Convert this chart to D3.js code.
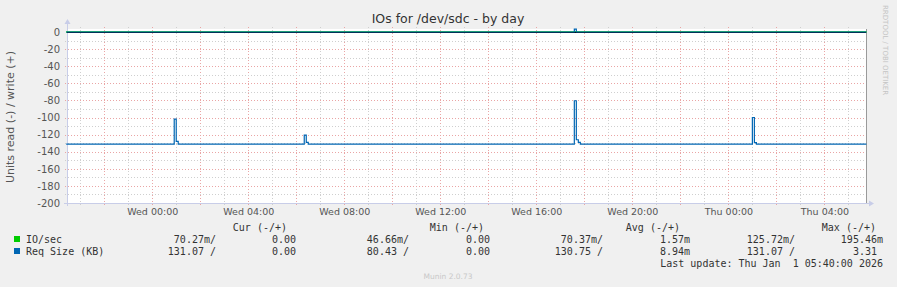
<!DOCTYPE html>
<html>
<head>
<meta charset="utf-8">
<script src="https://cdn.jsdelivr.net/npm/d3@7"></script>
<style>
  body { margin: 0; background: #f0f0f0; }
  svg { display: block; }
  text { font-family: "DejaVu Sans", sans-serif; }
  .mono { font-family: "DejaVu Sans Mono", monospace; font-size: 10px; fill: #333; }
</style>
</head>
<body>
<svg id="chart" width="897" height="287"></svg>
<script>
// time window (Tue 30 Dec 2025 -> Thu 1 Jan 2026)
const windowStart = "2025-12-30T20:27";
const windowEnd = "2026-01-01T05:44";

// Req Size (KB), read side (drawn negative) - breakpoints, 5 min steps
const reqReadTimes = [
  "2025-12-30T20:25", "2025-12-31T00:55", "2025-12-31T01:00", "2025-12-31T01:05",
  "2025-12-31T06:20", "2025-12-31T06:25", "2025-12-31T06:30",
  "2025-12-31T17:35", "2025-12-31T17:40", "2025-12-31T17:45", "2025-12-31T17:50",
  "2026-01-01T01:00", "2026-01-01T01:05", "2026-01-01T01:10", "2026-01-01T05:45"
];
const reqReadValues = [
  131.07, 101.8, 128.0, 131.07,
  120.5, 129.0, 131.07,
  80.43, 126.0, 129.0, 131.07,
  100.0, 129.5, 131.07, 131.07
];
// Req Size (KB), write side
const reqWriteTimes = ["2025-12-30T20:25", "2025-12-31T17:35", "2025-12-31T17:40", "2026-01-01T05:45"];
const reqWriteValues = [0, 3.31, 0, 0];

// IO/sec, read and write (tiny values, they sit on the zero line)
const ioReadTimes = ["2025-12-30T20:25", "2025-12-31T17:35", "2025-12-31T17:40", "2026-01-01T05:45"];
const ioReadValues = [0.0703, 0.1257, 0.0703, 0.0703];
const ioWriteTimes = ["2025-12-30T20:25", "2025-12-31T17:35", "2025-12-31T17:40", "2026-01-01T05:45"];
const ioWriteValues = [0, 0.1955, 0, 0];

const yTicks = [0, -20, -40, -60, -80, -100, -120, -140, -160, -180, -200];

// legend
const legendHeads = ["Cur (-/+)", "Min (-/+)", "Avg (-/+)", "Max (-/+)"];
const legendNames = ["IO/sec", "Req Size (KB)"];
const legendColors = ["#00cc00", "#0066b3"];
const legendRows = [
  ["70.27m/", "0.00", "46.66m/", "0.00", "70.37m/", "1.57m", "125.72m/", "195.46m"],
  ["131.07 /", "0.00", "80.43 /", "0.00", "130.75 /", "8.94m", "131.07 /", "3.31 "]
];

const svg = d3.select("#chart");
const parse = d3.timeParse("%Y-%m-%dT%H:%M");

const plotL = 67, plotR = 866, plotT = 32, plotB = 203;
const x = d3.scaleTime().domain([parse(windowStart), parse(windowEnd)]).range([plotL, plotR]);
const y = d3.scaleLinear().domain([-200, 0]).range([plotB, plotT]);

// plot background
svg.append("rect").attr("x", plotL).attr("y", plotT - 3).attr("width", plotR - plotL).attr("height", plotB - plotT + 3).attr("fill", "#fff");

// grid
const grid = svg.append("g").attr("shape-rendering", "crispEdges");
const hours = d3.timeHour.range(x.domain()[0], x.domain()[1]);
hours.forEach(h => {
  const major = h.getHours() % 2 === 0;
  grid.append("line")
    .attr("x1", Math.round(x(h)) + 0.5).attr("x2", Math.round(x(h)) + 0.5)
    .attr("y1", plotT - 5).attr("y2", plotB + 3)
    .attr("stroke", major ? "#eaa5a5" : "#cfcfcf")
    .attr("stroke-dasharray", "1,2");
});
d3.range(-200, 1, 10).forEach(v => {
  const major = v % 20 === 0;
  if (v === 0) return;
  grid.append("line")
    .attr("x1", plotL - 2).attr("x2", plotR + 2)
    .attr("y1", Math.round(y(v)) + 0.5).attr("y2", Math.round(y(v)) + 0.5)
    .attr("stroke", major ? "#eaa5a5" : "#cfcfcf")
    .attr("stroke-dasharray", "1,2");
});

// axes lines and arrows
const axisCol = "#c8cde8";
svg.append("line").attr("x1", plotL + 0.5).attr("x2", plotL + 0.5).attr("y1", plotT - 8).attr("y2", plotB + 3)
  .attr("stroke", axisCol);
svg.append("line").attr("x1", plotL - 3).attr("x2", plotR + 3).attr("y1", plotB + 0.5).attr("y2", plotB + 0.5)
  .attr("stroke", axisCol);
svg.append("path").attr("d", `M${plotL - 2.5},${plotT - 8} L${plotL + 3.5},${plotT - 8} L${plotL + 0.5},${plotT - 13} Z`).attr("fill", axisCol);
svg.append("path").attr("d", `M${plotR + 3},${plotB - 2.5} L${plotR + 3},${plotB + 3.5} L${plotR + 8},${plotB + 0.5} Z`).attr("fill", axisCol);
svg.append("line").attr("x1", plotR + 0.5).attr("x2", plotR + 0.5).attr("y1", plotT - 3).attr("y2", plotB)
  .attr("stroke", "#9a9a9a");

// y axis labels
const yAxis = d3.axisLeft(y).tickValues(yTicks).tickSize(0).tickPadding(0)
  .tickFormat(d => d === 0 ? "0" : "-" + Math.abs(d));
svg.append("g").attr("transform", `translate(${plotL - 7},0)`).call(yAxis)
  .call(g => g.select(".domain").remove())
  .call(g => g.selectAll("text").attr("fill", "#555").attr("font-size", "10px").attr("font-family", "DejaVu Sans"));

// x axis labels
const xAxis = d3.axisBottom(x).tickValues(d3.timeHour.every(4).range(x.domain()[0], x.domain()[1]))
  .tickSize(0).tickPadding(0).tickFormat(d3.timeFormat("%a %H:%M"));
svg.append("g").attr("transform", `translate(0,${plotB + 5})`).call(xAxis)
  .call(g => g.select(".domain").remove())
  .call(g => g.selectAll("text").attr("fill", "#555").attr("font-size", "9.5px").attr("font-family", "DejaVu Sans"));

// series
function series(times, values, sign) {
  return times.map((t, i) => ({ t: parse(t), v: sign * values[i] }));
}
const line = d3.line().x(d => x(d.t)).y(d => y(d.v)).curve(d3.curveStepAfter);
const plot = svg.append("g");
function drawSeries(data, col) {
  plot.append("path").datum(data).attr("d", line)
    .attr("fill", "none").attr("stroke", col).attr("stroke-width", 1.2);
}
drawSeries(series(ioReadTimes, ioReadValues, -1), legendColors[0]);
drawSeries(series(ioWriteTimes, ioWriteValues, 1), legendColors[0]);

// zero line sits over the IO/sec line
plot.append("line").attr("x1", plotL).attr("x2", plotR).attr("y1", Math.round(y(0)) + 0.5).attr("y2", Math.round(y(0)) + 0.5)
  .attr("stroke", "#000").attr("stroke-width", 1);

drawSeries(series(reqReadTimes, reqReadValues, -1), legendColors[1]);
drawSeries(series(reqWriteTimes, reqWriteValues, 1), legendColors[1]);

// title and labels
svg.append("text").attr("x", 448).attr("y", 23).attr("text-anchor", "middle")
  .attr("font-size", "12.5px").attr("fill", "#333").text("IOs for /dev/sdc - by day");
svg.append("text").attr("transform", "translate(14,117) rotate(-90)").attr("text-anchor", "middle")
  .attr("font-size", "11px").attr("fill", "#555").text("Units read (-) / write (+)");
svg.append("text").attr("transform", "translate(883,5) rotate(90)").attr("text-anchor", "start")
  .attr("font-size", "7px").attr("fill", "#c4c4c4").text("RRDTOOL / TOBI OETIKER");

// legend
const headEnds = [287, 484, 680, 876];
legendHeads.forEach((h, i) => {
  svg.append("text").attr("class", "mono").attr("x", headEnds[i]).attr("y", 231)
    .attr("text-anchor", "end").text(h);
});
const colEnds = [216, 296, 409, 490, 603, 690, 795, 883];
legendNames.forEach((n, r) => {
  const yy = 243 + r * 12;
  svg.append("rect").attr("x", 14).attr("y", yy - 7).attr("width", 6).attr("height", 6).attr("fill", legendColors[r]);
  svg.append("text").attr("class", "mono").attr("x", 26).attr("y", yy).text(n);
  legendRows[r].forEach((v, c) => {
    svg.append("text").attr("class", "mono").attr("x", colEnds[c]).attr("y", yy)
      .attr("text-anchor", "end").style("white-space", "pre").text(v);
  });
});
svg.append("text").attr("class", "mono").attr("x", 883).attr("y", 267).attr("text-anchor", "end")
  .style("white-space", "pre").text("Last update: Thu Jan  1 05:40:00 2026");
svg.append("text").attr("x", 448).attr("y", 279).attr("text-anchor", "middle")
  .attr("font-size", "7.5px").attr("fill", "#c8c8c8").text("Munin 2.0.73");
</script>
</body>
</html>
